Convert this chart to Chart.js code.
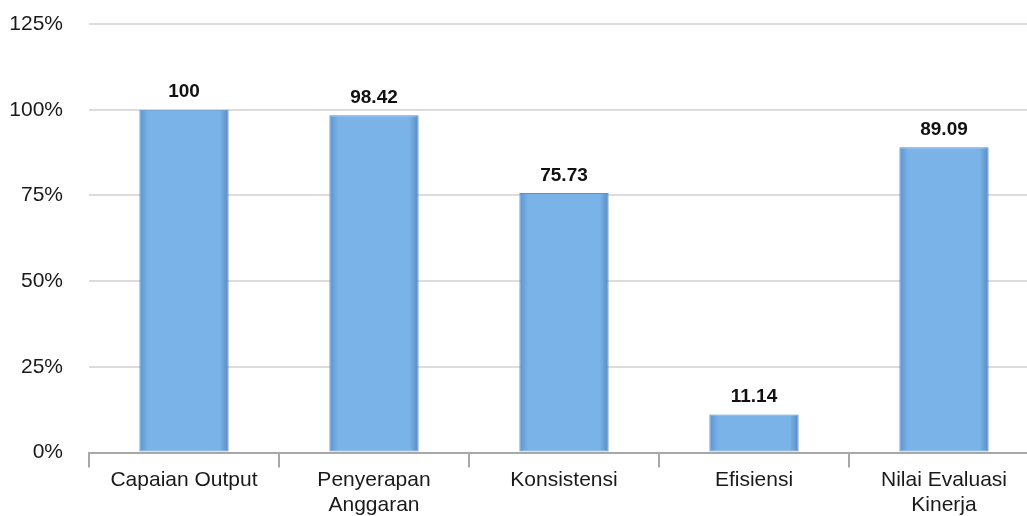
<!DOCTYPE html>
<html>
<head>
<meta charset="utf-8">
<script src="https://cdn.jsdelivr.net/npm/chart.js@4"></script>
<style>
  html, body { margin: 0; padding: 0; background: #fff; overflow: hidden; }
  #wrap { width: 1040px; height: 518px; }
</style>
</head>
<body>
<div id="wrap"><canvas id="chart"></canvas></div>
<script>
const kategori = [
    'Capaian Output',
    ['Penyerapan', 'Anggaran'],
    'Konsistensi',
    'Efisiensi',
    ['Nilai Evaluasi', 'Kinerja']
];
const nilai = [100, 98.42, 75.73, 11.14, 89.09];
const labelNilai = ['100', '98.42', '75.73', '11.14', '89.09'];
const yMin = 0;
const yMax = 125;
const yStep = 25;
const anchoBarra = 0.47;

// Etiquetas de valor encima de cada barra
const etiquetasBarras = {
    id: 'etiquetasBarras',
    afterDatasetsDraw(chart) {
        const ctx = chart.ctx;
        const meta = chart.getDatasetMeta(0);
        ctx.save();
        ctx.font = 'bold 19px "Liberation Sans", Arial, sans-serif';
        ctx.fillStyle = '#111';
        ctx.textAlign = 'center';
        ctx.textBaseline = 'bottom';
        meta.data.forEach((bar, i) => {
            ctx.fillText(labelNilai[i], bar.x, bar.y - 8);
        });
        ctx.restore();
    }
};

const grafico = document.getElementById('chart').getContext('2d');

// Relleno con bordes más oscuros (efecto bisel)
function rellenoBarra(context) {
    const escala = context.chart.scales && context.chart.scales.x;
    if (!escala || context.dataIndex === undefined) return '#7ab3e8';
    const cx = escala.getPixelForValue(context.dataIndex);
    const w = escala.width / kategori.length * anchoBarra;
    if (!isFinite(cx) || !isFinite(w)) return '#7ab3e8';
    const g = context.chart.ctx.createLinearGradient(cx - w / 2, 0, cx + w / 2, 0);
    g.addColorStop(0, '#5c93cf');
    g.addColorStop(0.1, '#7ab3e8');
    g.addColorStop(0.9, '#7ab3e8');
    g.addColorStop(1, '#5689c2');
    return g;
}

new Chart(grafico, {
    type: 'bar',
    data: {
        labels: kategori,
        datasets: [{
            data: nilai,
            backgroundColor: rellenoBarra,
            borderColor: '#5b8fca',
            borderWidth: 1,
            borderSkipped: false,
            barPercentage: anchoBarra,
            categoryPercentage: 1
        }]
    },
    options: {
        responsive: true,
        maintainAspectRatio: false,
        animation: false,
        layout: { padding: { top: 24, left: 10, right: 1, bottom: 0 } },
        plugins: {
            legend: { display: false },
            tooltip: { enabled: false }
        },
        scales: {
            x: {
                grid: {
                    offset: true,
                    drawOnChartArea: false,
                    drawTicks: true,
                    tickLength: 15,
                    color: '#a8a8a8',
                    lineWidth: 2
                },
                border: { display: true, color: '#a8a8a8', width: 2 },
                ticks: {
                    color: '#1a1a1a',
                    padding: 0,
                    maxRotation: 0,
                    autoSkip: false,
                    font: { family: '"Liberation Sans", Arial, sans-serif', size: 21, lineHeight: 1.2 }
                }
            },
            y: {
                min: yMin,
                max: yMax,
                afterFit: escala => {
                    escala.width = 79;
                    escala.paddingTop = 0;
                    escala.paddingBottom = 0;
                },
                grid: { color: '#dcdcdc', lineWidth: 2, drawTicks: false },
                border: { display: false },
                ticks: {
                    stepSize: yStep,
                    padding: 26,
                    color: '#1a1a1a',
                    font: { family: '"Liberation Sans", Arial, sans-serif', size: 21 },
                    callback: v => v + '%'
                }
            }
        }
    },
    plugins: [etiquetasBarras]
});
</script>
</body>
</html>
